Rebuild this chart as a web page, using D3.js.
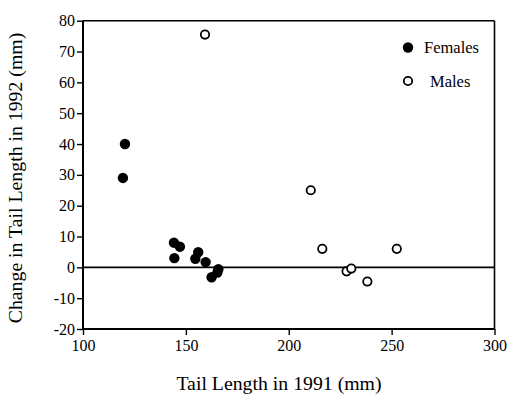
<!DOCTYPE html>
<html>
<head>
<meta charset="utf-8">
<script src="https://cdn.jsdelivr.net/npm/d3@7"></script>
<style>
  html, body { margin: 0; padding: 0; background: #fff; }
  svg { display: block; }
  text { font-family: "Liberation Serif", "DejaVu Serif", serif; fill: #000; }
</style>
</head>
<body>
<svg id="chart" width="508" height="398"></svg>
<script>
// ---- data ----
const femaleTail1991 = [120.4, 119.4, 144.2, 147.1, 144.4, 156.0, 154.6, 159.6, 162.5, 165.8, 165.3];
const femaleChange1992 = [40.0, 29.0, 8.0, 6.7, 3.0, 4.9, 2.8, 1.7, -3.2, -0.6, -1.7];
const maleTail1991 = [159.3, 210.7, 216.3, 252.5, 228.1, 230.4, 238.2];
const maleChange1992 = [75.5, 25.0, 6.0, 6.0, -1.3, -0.4, -4.6];
const xTicks = [100, 150, 200, 250, 300];
const yTicks = [-20, -10, 0, 10, 20, 30, 40, 50, 60, 70, 80];
const legendLabels = ["Females", "Males"];
const xTitle = "Tail Length in 1991 (mm)";
const yTitle = "Change in Tail Length in 1992 (mm)";

// ---- layout ----
const svg = d3.select("#chart");
const x = d3.scaleLinear().domain([100, 300]).range([83, 494.5]);
const y = d3.scaleLinear().domain([-20, 80]).range([329, 20.7]);

// frame (top and right)
svg.append("line").attr("x1", x(100)).attr("x2", x(300)).attr("y1", y(80)).attr("y2", y(80))
  .attr("stroke", "#000").attr("stroke-width", 1.6);
svg.append("line").attr("x1", x(300)).attr("x2", x(300)).attr("y1", y(80)).attr("y2", y(-20))
  .attr("stroke", "#000").attr("stroke-width", 1.6);

// zero line
svg.append("line").attr("x1", x(100)).attr("x2", x(300)).attr("y1", y(0)).attr("y2", y(0))
  .attr("stroke", "#000").attr("stroke-width", 1.6);

// axes
const gx = svg.append("g").attr("transform", `translate(0,${y(-20)})`)
  .call(d3.axisBottom(x).tickValues(xTicks).tickSize(6).tickPadding(5).tickFormat(d => String(d)));
const gy = svg.append("g").attr("transform", `translate(${x(100)},0)`)
  .call(d3.axisLeft(y).tickValues(yTicks).tickSize(6).tickPadding(2).tickFormat(d => String(d)));
[gx, gy].forEach(g => {
  g.select(".domain").attr("stroke", "#000").attr("stroke-width", 2);
  g.selectAll(".tick line").attr("stroke", "#000").attr("stroke-width", 1.4);
  g.selectAll(".tick text").attr("font-size", 16).attr("font-family", "Liberation Serif").attr("fill", "#000");
});
gx.select(".domain").attr("d", `M${x(100)},0H${x(300)}`);
gy.select(".domain").attr("d", `M0,${y(80)}V${y(-20)}`);

// axis titles
svg.append("text").attr("x", 279).attr("y", 390).attr("text-anchor", "middle")
  .attr("font-size", 19.8).text(xTitle);
svg.append("text").attr("transform", `translate(22,178) rotate(-90)`).attr("text-anchor", "middle")
  .attr("font-size", 19.8).text(yTitle);

// points
const females = femaleTail1991.map((v, i) => ({ x: v, y: femaleChange1992[i] }));
const males = maleTail1991.map((v, i) => ({ x: v, y: maleChange1992[i] }));

svg.append("g").selectAll("circle").data(females).join("circle")
  .attr("cx", d => x(d.x)).attr("cy", d => y(d.y)).attr("r", 5.2).attr("fill", "#000");
svg.append("g").selectAll("circle").data(males).join("circle")
  .attr("cx", d => x(d.x)).attr("cy", d => y(d.y)).attr("r", 4.2)
  .attr("fill", "#fff").attr("stroke", "#000").attr("stroke-width", 1.8);

// legend
const leg = svg.append("g");
leg.append("circle").attr("cx", 408).attr("cy", 47.5).attr("r", 5.2).attr("fill", "#000");
leg.append("text").attr("x", 424).attr("y", 53).attr("font-size", 16.5).text(legendLabels[0]);
leg.append("circle").attr("cx", 408).attr("cy", 81).attr("r", 4.2)
  .attr("fill", "#fff").attr("stroke", "#000").attr("stroke-width", 1.8);
leg.append("text").attr("x", 430).attr("y", 87).attr("font-size", 16.5).text(legendLabels[1]);
</script>
</body>
</html>
